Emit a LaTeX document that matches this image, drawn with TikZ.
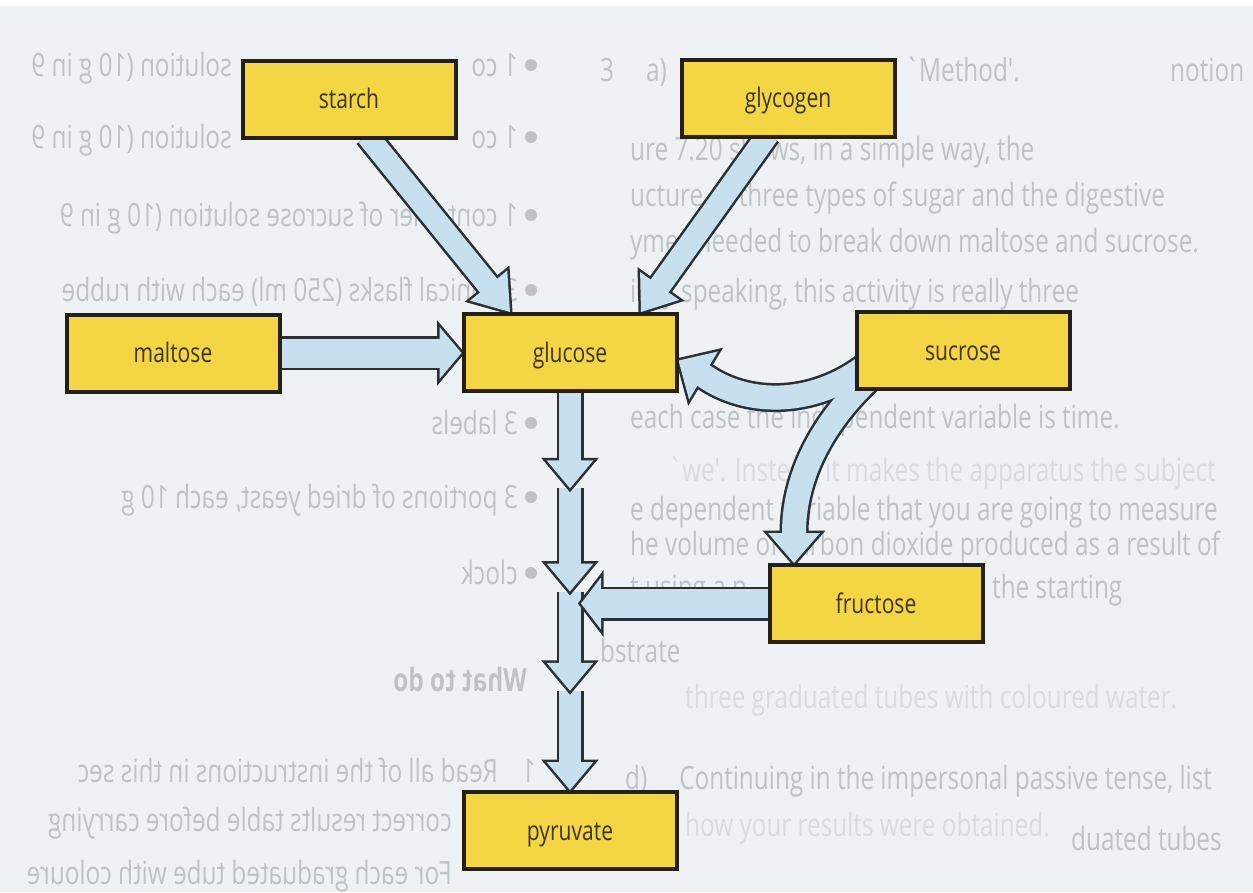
\documentclass[tikz,border=0pt]{standalone}
\usepackage{fontspec}
\usetikzlibrary{calc}
\newfontfamily\labfont[FakeStretch=0.78]{Open Sans}
\newfontfamily\pagefont[FakeStretch=0.76]{Open Sans}

\definecolor{paper}{RGB}{239,242,244}
\definecolor{boxfill}{RGB}{244,213,68}
\definecolor{boxedge}{RGB}{38,32,20}
\definecolor{boxtext}{RGB}{62,52,22}
\definecolor{flowfill}{RGB}{198,224,240}
\definecolor{flowedge}{RGB}{42,48,52}
\definecolor{printgray}{RGB}{190,195,200}
\definecolor{printpale}{RGB}{216,220,224}

\pgfdeclarelayer{page}
\pgfdeclarelayer{flow}
\pgfsetlayers{page,flow,main}

% outlined arrow head: #1 base centre, #2 tip, #3 half width
\newcommand\headdark[3]{%
  \filldraw[flowedge, line width=5pt, line join=miter]
    ($(#1)!#3!90:(#2)$) -- (#2) -- ($(#1)!#3!-90:(#2)$) -- cycle;}
\newcommand\headlight[3]{%
  \fill[flowfill] ($(#1)!#3!90:(#2)$) -- (#2) -- ($(#1)!#3!-90:(#2)$) -- cycle;}

% straight block arrow: #1 start, #2 tip, #3 shaft width, #4 head half width, #5 head length
\newcommand\flowarrow[5]{%
  \coordinate (fa-base) at ($(#2)!#5!(#1)$);
  \draw[flowedge, line width=#3+5pt] (#1) -- (fa-base);
  \headdark{fa-base}{#2}{#4}
  \draw[flowfill, line width=#3] (#1) -- ($(fa-base)!3pt!(#2)$);
  \headlight{fa-base}{#2}{#4}}

\begin{document}
\begin{tikzpicture}[x=1pt, y=-1pt,
  box/.style={draw=boxedge, line width=4pt, fill=boxfill,
    minimum width=213pt, minimum height=77pt, inner sep=0pt,
    text=boxtext, text height=19pt, text depth=0pt,
    font=\labfont\fontsize{27}{30}\selectfont},
  pagetext/.style={text=printgray, inner sep=0pt, anchor=base west,
    font=\pagefont\fontsize{32}{35}\selectfont},
  paletext/.style={pagetext, text=printpale},
  backtext/.style={pagetext, xscale=-1}]

\useasboundingbox (0,0) rectangle (1253,892);

% ---- the sugars ----
\node[box] (starch)   at (349,99)    {starch};
\node[box] (glycogen) at (788,98)    {glycogen};
\node[box] (maltose)  at (173,353)   {maltose};
\node[box] (glucose)  at (570,352.5) {glucose};
\node[box] (sucrose)  at (963,350.5) {sucrose};
\node[box] (fructose) at (876,603.5) {fructose};
\node[box] (pyruvate) at (570,830.5) {pyruvate};

% ---- printed page underneath ----
\begin{pgfonlayer}{page}
  \fill[paper] (0,0) rectangle (1253,892);
  \fill[white] (0,0) rectangle (1253,6);
  % list showing through from the back of the sheet
  \foreach \y in {65,137,215,290,423,497,573} \fill[printgray] (531,\y) circle (6);
  \node[backtext] (bk1a) at (518,76)  {1 co};
  \node[backtext] (bk1b) at (232,76)  {solution (10 g in 9};
  \node[backtext] (bk2a) at (518,148) {1 co};
  \node[backtext] (bk2b) at (232,148) {solution (10 g in 9};
  \node[backtext] (bk3) at (518,226) {1 container of sucrose solution (10 g in 9};
  \node[backtext] (bk4) at (518,301) {3 conical flasks (250 ml) each with rubbe};
  \node[backtext] (bk5) at (518,434) {3 labels};
  \node[backtext] (bk6) at (518,508) {3 portions of dried yeast, each 10 g};
  \node[backtext] (bk7) at (518,584) {clock};
  \node[backtext, font=\pagefont\bfseries\fontsize{32}{35}\selectfont] (bk8) at (527,691) {What to do};
  \node[backtext] (bk9n) at (536,782) {1};
  \node[backtext] (bk9) at (498,782) {Read all of the instructions in this sec};
  \node[backtext] (bk10) at (452,831) {correct results table before carrying};
  \node[backtext] (bk11) at (452,884) {For each graduated tube with coloure};
  % text of the facing page
  \node[pagetext] (fp0)  at (600,81)   {3\quad a)};
  \node[pagetext] (fp0b) at (905,81)   {`Method'.};
  \node[pagetext] (fp0c) at (1170,81)  {notion};
  \node[pagetext] (fp1)  at (630,160)  {ure 7.20 shows, in a simple way, the};
  \node[pagetext] (fp2)  at (630,206)  {ucture of three types of sugar and the digestive};
  \node[pagetext] (fp3)  at (630,252)  {ymes needed to break down maltose and sucrose.};
  \node[pagetext] (fp4)  at (630,302)  {ictly speaking, this activity is really three};
  \node[pagetext] (fp6)  at (630,428)  {each case the independent variable is time.};
  \node[paletext] (fp11) at (668,481)  {`we'. Instead it makes the apparatus the subject};
  \node[pagetext] (fp7)  at (630,520)  {e dependent variable that you are going to measure};
  \node[pagetext] (fp8)  at (630,555)  {he volume of carbon dioxide produced as a result of};
  \node[pagetext] (fp9a) at (630,598)  {t using a p};
  \node[pagetext] (fp9b) at (992,598)  {the starting};
  \node[pagetext] (fp10) at (600,662)  {bstrate};
  \node[paletext] (fp12) at (685,708)  {three graduated tubes with coloured water.};
  \node[pagetext] (fp13) at (625,789)  {d)\quad Continuing in the impersonal passive tense, list};
  \node[paletext] (fp14) at (685,836)  {how your results were obtained.};
  \node[pagetext] (fp15) at (1071,850) {duated tubes};
\end{pgfonlayer}

% ---- block arrows ----
\begin{pgfonlayer}{flow}
  % glucose down to pyruvate, lowest segment first
  \coordinate (v0) at ([yshift=3pt]glucose.south);
  \coordinate (v1) at ($(glucose.south)!0.24!(pyruvate.north)$);
  \coordinate (v2) at ($(glucose.south)!0.50!(pyruvate.north)$);
  \coordinate (v3) at ($(glucose.south)!0.75!(pyruvate.north)$);
  \coordinate (v4) at (pyruvate.north);
  \flowarrow{v3}{v4}{22pt}{23.5pt}{28pt}
  \flowarrow{v2}{v3}{22pt}{23.5pt}{28pt}
  \flowarrow{v1}{v2}{22pt}{23.5pt}{28pt}
  \flowarrow{v0}{v1}{22pt}{23.5pt}{28pt}

  % fructose joins the chain
  \coordinate (fr0) at ([xshift=4pt]fructose.west);
  \coordinate (fr1) at ($(fructose.west -| glucose.south)+(11,0)$);
  \flowarrow{fr0}{fr1}{29pt}{26pt}{20pt}

  % maltose
  \coordinate (ma0) at ([xshift=-4pt]maltose.east);
  \coordinate (ma1) at (maltose.east -| glucose.west);
  \flowarrow{ma0}{ma1}{29pt}{26pt}{22pt}

  % starch
  \coordinate (st0) at ([xshift=18pt,yshift=4pt]starch.south);
  \coordinate (st1) at ([xshift=-60pt]glucose.north);
  \flowarrow{st0}{st1}{22pt}{24pt}{34pt}

  % glycogen
  \coordinate (gl0) at ([xshift=-20pt,yshift=4pt]glycogen.south);
  \coordinate (gl1) at ([xshift=71pt]glucose.north);
  \flowarrow{gl0}{gl1}{22pt}{24pt}{32pt}

  % sucrose splits into glucose and fructose
  \coordinate (su0) at ([xshift=12pt,yshift=-15pt]sucrose.west);
  \coordinate (su1) at ([xshift=16pt,yshift=-27pt]sucrose.west);
  \coordinate (sgT) at ([yshift=-8pt]glucose.east);
  \coordinate (sgB) at ($(sgT)+(25,15)$);
  \coordinate (sfT) at ([xshift=-82pt]fructose.north);
  \coordinate (sfB) at ($(sfT)+(0,-30)$);
  \draw[flowedge, line width=29pt] (su0) .. controls +(-55,42) and +(42,30) .. (sgB) -- ($(sgB)!3pt!(sgT)$);
  \draw[flowedge, line width=29pt] (su1) .. controls +(-45,42) and +(0,-60) .. (sfB) -- ($(sfB)!3pt!(sfT)$);
  \headdark{sgB}{sgT}{28pt}
  \headdark{sfB}{sfT}{26pt}
  \draw[flowfill, line width=24pt] (su0) .. controls +(-55,42) and +(42,30) .. (sgB) -- ($(sgB)!3pt!(sgT)$);
  \draw[flowfill, line width=24pt] (su1) .. controls +(-45,42) and +(0,-60) .. (sfB) -- ($(sfB)!3pt!(sfT)$);
  \headlight{sgB}{sgT}{28pt}
  \headlight{sfB}{sfT}{26pt}
\end{pgfonlayer}
\end{tikzpicture}
\end{document}
